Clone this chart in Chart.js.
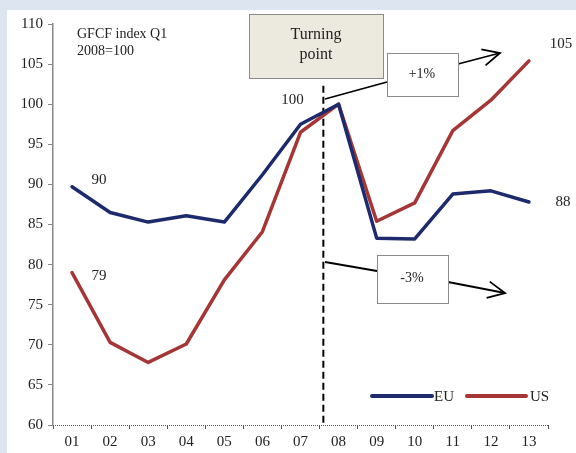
<!DOCTYPE html>
<html>
<head>
<meta charset="utf-8">
<script src="https://cdn.jsdelivr.net/npm/chart.js@4/dist/chart.umd.min.js"></script>
<style>
html,body{margin:0;padding:0;background:#fff;}
#wrap{width:576px;height:453px;position:relative;}
</style>
</head>
<body>
<div id="wrap"><canvas id="c" width="576" height="453"></canvas></div>
<script>
const categories = ['01','02','03','04','05','06','07','08','09','10','11','12','13'];
const euValues = [89.7, 86.5, 85.3, 86.1, 85.3, 91.2, 97.5, 100, 83.3, 83.2, 88.8, 89.2, 87.8];
const usValues = [79.0, 70.3, 67.8, 70.1, 78.1, 84.1, 96.5, 100, 85.4, 87.7, 96.7, 100.5, 105.4];
const yTicks = [60, 65, 70, 75, 80, 85, 90, 95, 100, 105, 110];
const seriesNames = ['EU', 'US'];
const seriesColors = ['#1d2a6b', '#a63535'];

const SERIF = '"Liberation Serif", "Times New Roman", serif';
const TXT = '#222';

function arrowHead(ctx, x1, y1, x2, y2, len, ang) {
  const a = Math.atan2(y2 - y1, x2 - x1);
  ctx.beginPath();
  ctx.moveTo(x2 - len * Math.cos(a - ang), y2 - len * Math.sin(a - ang));
  ctx.lineTo(x2, y2);
  ctx.lineTo(x2 - len * Math.cos(a + ang), y2 - len * Math.sin(a + ang));
  ctx.stroke();
}

const bgPlugin = {
  id: 'bg',
  beforeDraw(chart) {
    const ctx = chart.ctx;
    ctx.save();
    ctx.fillStyle = '#fff';
    ctx.fillRect(0, 0, chart.width, chart.height);
    ctx.fillStyle = '#dde5f1';
    ctx.fillRect(0, 0, chart.width, 10);
    ctx.fillRect(0, 10, 7, chart.height - 10);
    ctx.restore();
  }
};

const annPlugin = {
  id: 'ann',
  beforeDatasetsDraw(chart) {
    const ctx = chart.ctx;
    const x = chart.scales.x, y = chart.scales.y;
    ctx.save();
    // x axis dotted line
    ctx.strokeStyle = '#555';
    ctx.lineWidth = 1;
    ctx.setLineDash([1, 1]);
    ctx.beginPath();
    ctx.moveTo(chart.chartArea.left, y.getPixelForValue(60) + 0.5);
    ctx.lineTo(chart.chartArea.right, y.getPixelForValue(60) + 0.5);
    ctx.stroke();
    ctx.setLineDash([]);
    // turning point dashed line
    const step = x.getPixelForValue(1) - x.getPixelForValue(0);
    const tx = x.getPixelForValue(6) + 0.6 * step;
    ctx.strokeStyle = '#000';
    ctx.lineWidth = 2;
    ctx.setLineDash([7, 4]);
    ctx.beginPath();
    ctx.moveTo(tx, y.getPixelForValue(102.3));
    ctx.lineTo(tx, y.getPixelForValue(60));
    ctx.stroke();
    ctx.setLineDash([]);
    ctx.restore();
  },
  afterDatasetsDraw(chart) {
    const ctx = chart.ctx;
    const x = chart.scales.x, y = chart.scales.y;
    ctx.save();
    ctx.fillStyle = TXT;
    ctx.textBaseline = 'middle';
    // title text
    ctx.font = '14px ' + SERIF;
    ctx.textAlign = 'left';
    ctx.fillText('GFCF index Q1', 77, 34);
    ctx.fillText('2008=100', 77, 51);

    // Turning point box
    ctx.fillStyle = '#ece9df';
    ctx.strokeStyle = '#8a8a8a';
    ctx.lineWidth = 1;
    ctx.fillRect(249, 14, 134, 64);
    ctx.strokeRect(249.5, 14.5, 134, 64);
    ctx.fillStyle = TXT;
    ctx.font = '16px ' + SERIF;
    ctx.textAlign = 'center';
    ctx.fillText('Turning', 316, 35);
    ctx.fillText('point', 316, 55);

    // arrows
    ctx.strokeStyle = '#000';
    ctx.lineWidth = 1.8;
    ctx.beginPath();
    ctx.moveTo(325, 99); ctx.lineTo(387, 82);
    ctx.moveTo(458, 64); ctx.lineTo(500, 53);
    ctx.stroke();
    arrowHead(ctx, 458, 64, 500, 53, 19, 0.45);
    ctx.beginPath();
    ctx.moveTo(325, 262); ctx.lineTo(377, 271);
    ctx.moveTo(448, 282); ctx.lineTo(505, 293);
    ctx.stroke();
    arrowHead(ctx, 448, 282, 505, 293, 19, 0.45);

    // +1% box
    ctx.fillStyle = '#fff';
    ctx.strokeStyle = '#8a8a8a';
    ctx.lineWidth = 1;
    ctx.fillRect(387, 53, 71, 43);
    ctx.strokeRect(387.5, 53.5, 71, 43);
    ctx.fillRect(377, 255, 71, 48);
    ctx.strokeRect(377.5, 255.5, 71, 48);
    ctx.fillStyle = TXT;
    ctx.font = '14px ' + SERIF;
    ctx.fillText('+1%', 422, 74);
    ctx.fillText('-3%', 412, 278);

    // value labels
    ctx.font = '15px ' + SERIF;
    ctx.fillText('90', x.getPixelForValue(0) + 27, y.getPixelForValue(euValues[0]) - 7);
    ctx.fillText('79', x.getPixelForValue(0) + 27, y.getPixelForValue(usValues[0]) + 3);
    ctx.fillText('100', x.getPixelForValue(7) - 46, y.getPixelForValue(100) - 4);
    ctx.fillText('105', x.getPixelForValue(12) + 32, y.getPixelForValue(usValues[12]) - 17);
    ctx.fillText('88', x.getPixelForValue(12) + 34, y.getPixelForValue(euValues[12]));

    // legend
    const ly = 396;
    const items = [[372, 432, 434], [467, 526, 530]];
    ctx.lineCap = 'round';
    ctx.textAlign = 'left';
    chart.data.datasets.forEach((ds, i) => {
      const it = items[i];
      ctx.strokeStyle = ds.borderColor;
      ctx.lineWidth = 4;
      ctx.beginPath();
      ctx.moveTo(it[0], ly); ctx.lineTo(it[1], ly);
      ctx.stroke();
      ctx.fillStyle = TXT;
      ctx.fillText(ds.label, it[2], ly + 1);
    });
    ctx.restore();
  }
};

new Chart(document.getElementById('c'), {
  type: 'line',
  data: {
    labels: categories,
    datasets: [
      { label: seriesNames[0], data: euValues, borderColor: seriesColors[0], backgroundColor: seriesColors[0], borderWidth: 3.5, pointRadius: 0, tension: 0, borderJoinStyle: 'round', borderCapStyle: 'round' },
      { label: seriesNames[1], data: usValues, borderColor: seriesColors[1], backgroundColor: seriesColors[1], borderWidth: 3.5, pointRadius: 0, tension: 0, borderJoinStyle: 'round', borderCapStyle: 'round' }
    ]
  },
  options: {
    responsive: false,
    animation: false,
    devicePixelRatio: 1,
    layout: { padding: { left: 0, right: 28, top: 24, bottom: 0 } },
    plugins: { legend: { display: false }, tooltip: { enabled: false } },
    scales: {
      x: {
        type: 'category',
        offset: true,
        grid: { display: true, offset: true, drawOnChartArea: false, drawTicks: true, tickLength: 4, color: '#555', lineWidth: 1 },
        border: { display: false },
        ticks: { color: TXT, font: { family: SERIF, size: 15 }, padding: 4, maxRotation: 0, autoSkip: false },
        afterFit(s) { s.height = 28; }
      },
      y: {
        min: 60, max: 110,
        afterBuildTicks(s) { s.ticks = yTicks.map(v => ({ value: v })); },
        grid: { display: true, drawOnChartArea: false, drawTicks: true, tickLength: 5, color: '#888', lineWidth: 1 },
        border: { display: true, color: '#888', width: 1.5 },
        ticks: { color: TXT, font: { family: SERIF, size: 15 }, padding: 5 },
        afterFit(s) { s.width = 53; }
      }
    }
  },
  plugins: [bgPlugin, annPlugin]
});
</script>
</body>
</html>
